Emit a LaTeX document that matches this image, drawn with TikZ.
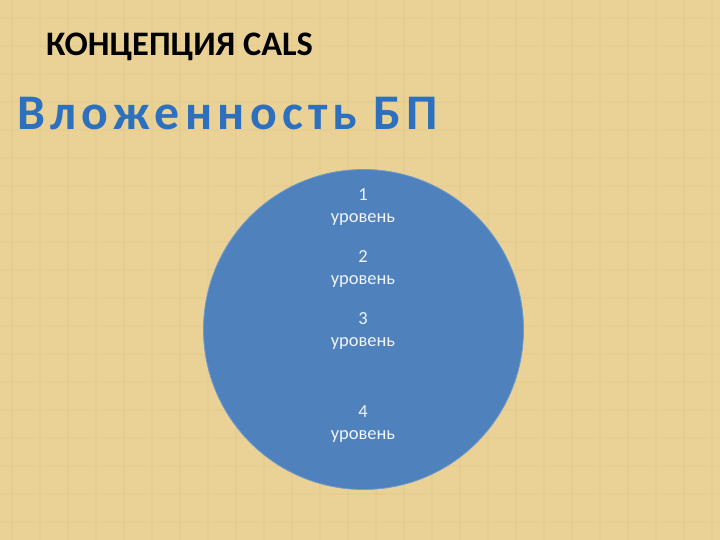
\documentclass[tikz,border=0pt]{standalone}
\usepackage{fontspec}
\setmainfont{Carlito}
\definecolor{paper}{RGB}{234,210,150}
\definecolor{paperline}{RGB}{222,196,132}
\definecolor{discblue}{RGB}{79,129,189}
\definecolor{titleblue}{RGB}{44,112,190}
\begin{document}
\begin{tikzpicture}[x=1bp,y=-1bp,
  lvl/.style={text=white!92!discblue, font=\fontsize{18.5}{22}\selectfont, align=center, inner sep=0pt}]
\useasboundingbox (0,0) rectangle (720,540);
\fill[paper] (0,0) rectangle (720,540);
\foreach \x in {12,40,...,720} \draw[paperline, line width=1.2bp, opacity=0.3] (\x,0) -- (\x,540);
\foreach \y in {18,46,...,540} \draw[paperline, line width=1.2bp, opacity=0.3] (0,\y) -- (720,\y);
\node[anchor=base west, inner sep=0pt, font=\fontsize{34.5}{40}\selectfont\bfseries] (title) at (46,56) {КОНЦЕПЦИЯ CALS};
\node[anchor=base west, inner sep=0pt, text=titleblue, font=\fontsize{50}{60}\selectfont\bfseries\addfontfeature{LetterSpace=10.5}] (subtitle) at (17,130) {Вложенность БП};
\node[circle, fill=discblue, draw=discblue!80!white, line width=0.8bp, minimum size=320bp, inner sep=0pt] (disc) at (363.5,329.5) {};
\node[lvl] (l1) at (363,207) {1\\уровень};
\node[lvl] (l2) at (363,269) {2\\уровень};
\node[lvl] (l3) at (363,331) {3\\уровень};
\node[lvl] (l4) at (363,424) {4\\уровень};
\end{tikzpicture}
\end{document}
